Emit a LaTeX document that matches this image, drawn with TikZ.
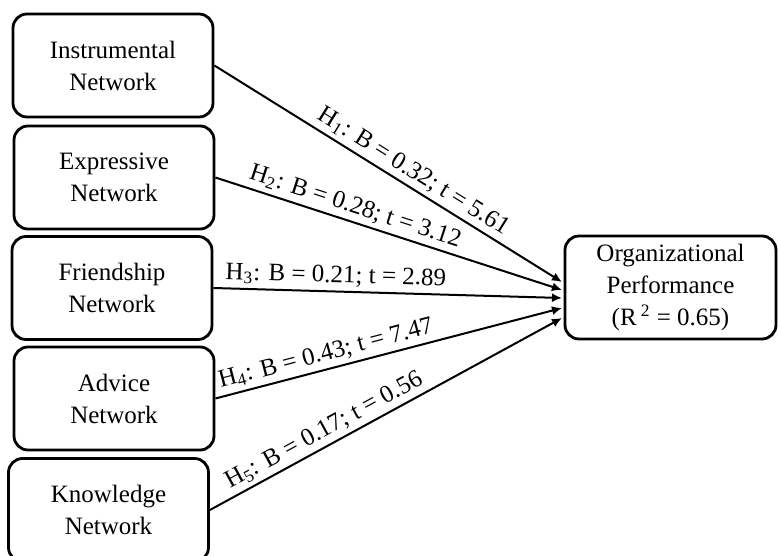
\documentclass[tikz,border=0pt]{standalone}
\usepackage{fontspec}
\setmainfont{Liberation Serif}
\usetikzlibrary{arrows.meta}
\begin{document}
\begin{tikzpicture}[x=0.5pt,y=-0.5pt,font=\fontsize{12.5}{16}\selectfont,
  netbox/.style={draw,line width=1.4pt,rounded corners=7pt,align=center,
    minimum width=100pt,minimum height=51.5pt,inner sep=2pt},
  link/.style={line width=1pt,-{Latex[length=5pt,width=4.5pt]}},
  lab/.style={sloped,above,inner sep=2pt}]
\useasboundingbox (0,0) rectangle (778,556);

\node[netbox] (instr) at (113,65.5) {Instrumental\\Network};
\node[netbox] (expr) at (114,177.5) {Expressive\\Network};
\node[netbox] (friend) at (112,288) {Friendship\\Network};
\node[netbox] (advice) at (114,398.5) {Advice\\Network};
\node[netbox] (know) at (108.5,510) {Knowledge\\Network};

\node[netbox,minimum width=105.5pt] (perf) at (670.5,287.5)
  {Organizational\\Performance\\(R\,\textsuperscript{2} = 0.65)};

\coordinate (in1) at (562,282);
\coordinate (in2) at (562,290);
\coordinate (in3) at (562,298);
\coordinate (in4) at (562,308);
\coordinate (in5) at (562,318);

\draw[link] (instr.east) -- (in1) node[lab,pos=0.55] {H\textsubscript{1}: B = 0.32; t = 5.61};
\draw[link] (expr.east) -- (in2) node[lab,pos=0.39] {H\textsubscript{2}: B = 0.28; t = 3.12};
\draw[link] (friend.east) -- (in3) node[lab,pos=0.35] {H\textsubscript{3}: B = 0.21; t = 2.89};
\draw[link] (advice.east) -- (in4) node[lab,pos=0.33] {H\textsubscript{4}: B = 0.43; t = 7.47};
\draw[link] (know.east) -- (in5) node[lab,pos=0.345] {H\textsubscript{5}: B = 0.17; t = 0.56};

\end{tikzpicture}
\end{document}
